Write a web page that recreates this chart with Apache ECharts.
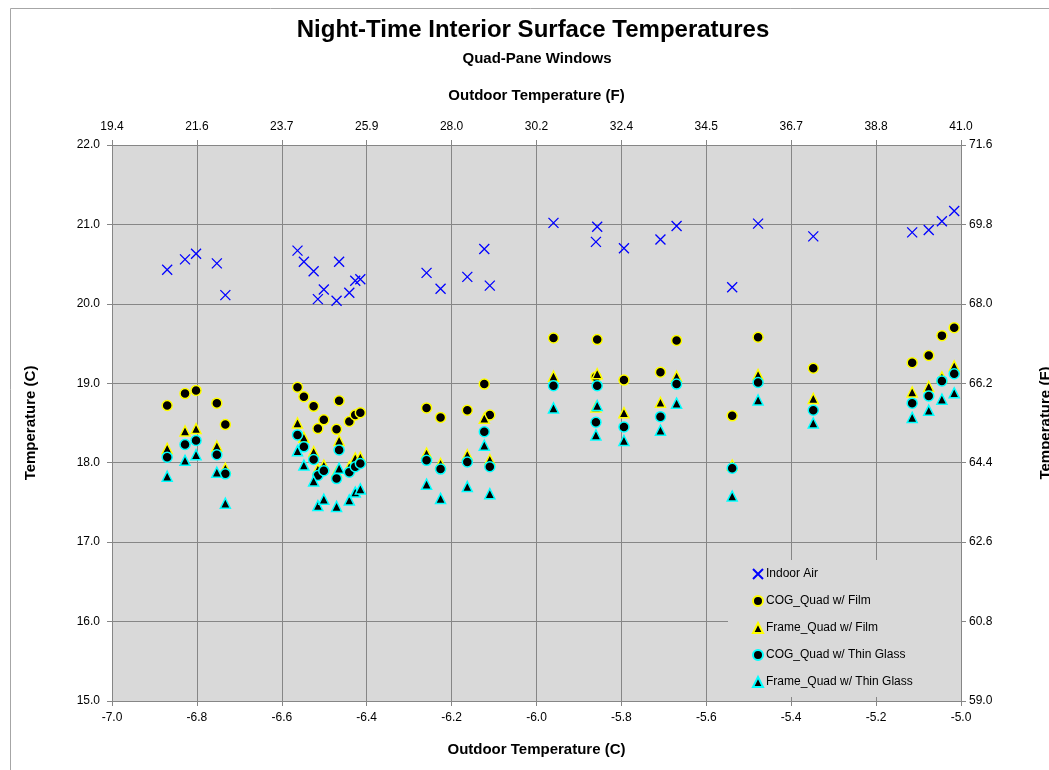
<!DOCTYPE html>
<html><head><meta charset="utf-8">
<script src="https://cdn.jsdelivr.net/npm/echarts@6/dist/echarts.min.js"></script>
<style>html,body{margin:0;padding:0;background:#fff}#c{width:1049px;height:770px}</style>
</head><body><div id="c"></div>
<script>
// Outdoor temperature (C) for each observation
const outdoorC = [-6.870,-6.828,-6.802,-6.753,-6.733,
  -6.563,-6.548,-6.525,-6.515,-6.501,-6.471,-6.465,-6.441,-6.427,-6.415,
  -6.259,-6.226,-6.163,-6.123,-6.110,
  -5.960,-5.860,-5.857,-5.794,-5.708,-5.670,
  -5.539,-5.478,-5.348,
  -5.115,-5.076,-5.045,-5.016];
const indoorAir = [20.43,20.56,20.63,20.51,20.11,
  20.67,20.53,20.41,20.06,20.18,20.04,20.53,20.14,20.29,20.31,
  20.39,20.19,20.34,20.69,20.23,
  21.02,20.78,20.97,20.70,20.81,20.98,
  20.21,21.01,20.85,
  20.90,20.93,21.04,21.17];
const cogFilm = [18.72,18.87,18.91,18.75,18.48,
  18.95,18.83,18.71,18.43,18.54,18.42,18.78,18.52,18.60,18.63,
  18.69,18.57,18.66,18.99,18.60,
  19.57,19.08,19.55,19.04,19.14,19.54,
  18.59,19.58,19.19,
  19.26,19.35,19.60,19.70];
const frameFilm = [18.18,18.40,18.43,18.21,17.93,
  18.50,18.32,18.14,17.92,17.97,17.88,18.28,17.95,18.06,18.07,
  18.12,17.99,18.10,18.56,18.04,
  19.09,18.70,19.12,18.63,18.76,19.09,
  17.97,19.11,18.81,
  18.89,18.96,19.08,19.22];
const cogThin = [18.07,18.23,18.28,18.10,17.86,
  18.35,18.20,18.04,17.84,17.90,17.80,18.16,17.88,17.95,17.99,
  18.03,17.92,18.01,18.39,17.95,
  18.97,18.51,18.97,18.45,18.58,18.99,
  17.93,19.01,18.66,
  18.75,18.84,19.03,19.12];
const frameThin = [17.83,18.03,18.10,17.88,17.49,
  18.15,17.97,17.77,17.46,17.54,17.45,17.93,17.53,17.63,17.67,
  17.73,17.55,17.70,18.22,17.61,
  18.69,18.35,18.72,18.28,18.41,18.75,
  17.58,18.79,18.50,
  18.57,18.66,18.80,18.88];
const seriesNames = ['Indoor Air','COG_Quad w/ Film','Frame_Quad w/ Film','COG_Quad w/ Thin Glass','Frame_Quad w/ Thin Glass'];
const topTickLabels = ['19.4','21.6','23.7','25.9','28.0','30.2','32.4','34.5','36.7','38.8','41.0'];
const rightTickLabels = ['59.0','60.8','62.6','64.4','66.2','68.0','69.8','71.6'];
const chartTitle = 'Night-Time Interior Surface Temperatures';
const chartSubtitle = 'Quad-Pane Windows';

const FONT = "'Liberation Sans', Arial, sans-serif";
const pts = arr => outdoorC.map((x, i) => [x, arr[i]]);
const axisCol = '#868686';

const chart = echarts.init(document.getElementById('c'), null, {renderer: 'canvas'});
const labelStyle = {color: '#000', fontFamily: FONT, fontSize: 12};
const nameStyle = {color: '#000', fontFamily: FONT, fontSize: 15, fontWeight: 'bold'};

function mk(name, data, symbol, size, fill, border, bw) {
  return {
    type: 'scatter', name: name, data: data, symbol: symbol, symbolSize: size,
    xAxisIndex: 0, yAxisIndex: 0,
    itemStyle: {color: fill, borderColor: border, borderWidth: bw, opacity: 1},
    emphasis: {disabled: true}, animation: false
  };
}

chart.setOption({
  animation: false,
  backgroundColor: '#fff',
  grid: {left: 112, right: 88, top: 145, bottom: 69, show: true, backgroundColor: '#d9d9d9', borderWidth: 0,
         containLabel: false, outerBoundsMode: 'none'},
  xAxis: [{
    type: 'value', position: 'bottom', min: -7, max: -5, interval: 0.2,
    name: 'Outdoor Temperature (C)', nameLocation: 'middle', nameGap: 41, nameTextStyle: nameStyle,
    axisLine: {show: true, lineStyle: {color: axisCol}},
    axisTick: {show: true, length: 5, lineStyle: {color: axisCol}},
    axisLabel: Object.assign({margin: 11, formatter: v => v.toFixed(1)}, labelStyle),
    splitLine: {show: true, lineStyle: {color: axisCol, width: 1}}
  }, {
    type: 'value', position: 'top', min: 0, max: 10, interval: 1,
    name: 'Outdoor Temperature (F)', nameLocation: 'middle', nameGap: 42, nameTextStyle: nameStyle,
    axisLine: {show: true, onZero: false, lineStyle: {color: axisCol}},
    axisTick: {show: true, length: 5, lineStyle: {color: axisCol}},
    axisLabel: Object.assign({margin: 12, formatter: v => topTickLabels[Math.round(v)]}, labelStyle),
    splitLine: {show: false}
  }],
  yAxis: [{
    type: 'value', position: 'left', min: 15, max: 22, interval: 1,
    name: 'Temperature (C)', nameLocation: 'middle', nameGap: 74, nameTextStyle: nameStyle,
    axisLine: {show: true, onZero: false, lineStyle: {color: axisCol}},
    axisTick: {show: true, length: 5, lineStyle: {color: axisCol}},
    axisLabel: Object.assign({margin: 12, formatter: v => v.toFixed(1)}, labelStyle),
    splitLine: {show: true, lineStyle: {color: axisCol, width: 1}}
  }, {
    type: 'value', position: 'right', min: 0, max: 7, interval: 1,
    name: 'Temperature (F)', nameLocation: 'middle', nameGap: 77, nameTextStyle: nameStyle,
    axisLine: {show: true, onZero: false, lineStyle: {color: axisCol}},
    axisTick: {show: true, length: 5, lineStyle: {color: axisCol}},
    axisLabel: Object.assign({margin: 8, formatter: v => rightTickLabels[Math.round(v)]}, labelStyle),
    splitLine: {show: false}
  }],
  legend: {
    orient: 'vertical', left: 752, top: 567, padding: 0, z: 10,
    itemWidth: 10, itemHeight: 10, itemGap: 13,
    textStyle: {fontFamily: FONT, fontSize: 12, color: '#000', lineHeight: 14, padding: [0, 0, 0, -2]},
    data: seriesNames
  },
  graphic: [{
    type: 'rect', z: 3, silent: true,
    shape: {x: 728, y: 560, width: 233, height: 137},
    style: {fill: '#d9d9d9', stroke: null}
  }, {
    type: 'rect', z: 0, silent: true,
    shape: {x: 10.5, y: 8.5, width: 1200, height: 1000},
    style: {fill: 'none', stroke: '#a6a6a6', lineWidth: 1}
  }, {
    type: 'text', z: 5, silent: true, x: 533, y: 30,
    style: {text: chartTitle, fill: '#000', font: "bold 24px 'Liberation Sans', Arial, sans-serif",
            textAlign: 'center', textVerticalAlign: 'middle'}
  }, {
    type: 'text', z: 5, silent: true, x: 537, y: 59,
    style: {text: chartSubtitle, fill: '#000', font: "bold 15px 'Liberation Sans', Arial, sans-serif",
            textAlign: 'center', textVerticalAlign: 'middle'}
  }],
  series: [
    mk(seriesNames[0], pts(indoorAir), 'path://M0,0L10,10M10,0L0,10', 10, 'rgba(0,0,0,0)', '#0000ff', 1.3),
    mk(seriesNames[1], pts(cogFilm), 'circle', 10, '#000', '#ffff00', 1.5),
    mk(seriesNames[2], pts(frameFilm), 'triangle', 10, '#000', '#ffff00', 1.5),
    mk(seriesNames[3], pts(cogThin), 'circle', 10, '#000', '#00ffff', 1.5),
    mk(seriesNames[4], pts(frameThin), 'triangle', 10, '#000', '#00ffff', 1.5)
  ]
});
</script></body></html>
